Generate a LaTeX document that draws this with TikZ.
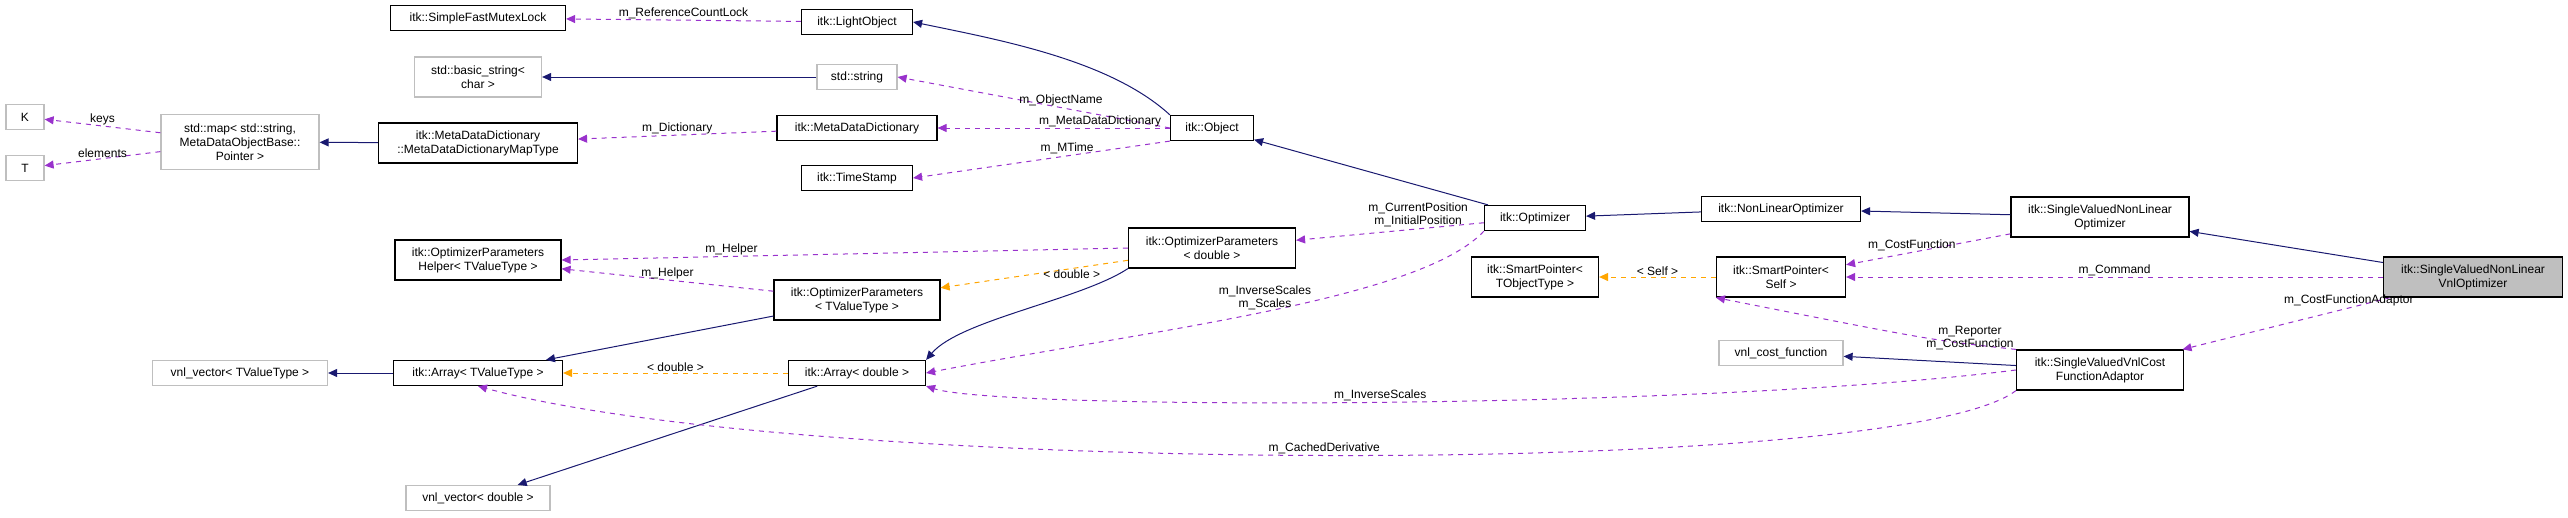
\documentclass[tikz,border=0pt]{standalone}
\usepackage{fontspec}
\setmainfont{Liberation Sans}
\usetikzlibrary{arrows.meta}
\definecolor{inh}{RGB}{25,25,112}
\definecolor{use}{RGB}{153,50,204}
\definecolor{tpl}{RGB}{255,165,0}
\definecolor{lgray}{RGB}{191,191,191}
\begin{document}
\begin{tikzpicture}[x=1pt,y=-1pt,
  box/.style={draw=black,line width=1.2pt,minimum height=25,inner sep=1,align=center,font=\fontsize{12}{14}\selectfont},
  ext/.style={box,draw=lgray},
  two/.style={minimum height=40},
  inhe/.style={draw=inh,line width=1pt,-{Triangle[length=9pt,width=8pt]}},
  usee/.style={draw=use,line width=1pt,dash pattern=on 5pt off 5pt,-{Triangle[length=9pt,width=8pt]}},
  tple/.style={draw=tpl,line width=1pt,dash pattern=on 5pt off 5pt,-{Triangle[length=9pt,width=8pt]}},
  lab/.style={font=\fontsize{12}{13}\selectfont,align=center,inner sep=1}]
\useasboundingbox (0,0) rectangle (2568,517);
% nodes
\node[box,minimum width=175] (sfml) at (478,18) {itk::SimpleFastMutexLock};
\node[box,minimum width=111] (lo) at (857,22) {itk::LightObject};
\node[ext,two,minimum width=127] (bs) at (478,77) {std::basic\_string\textless\\char \textgreater};
\node[ext,minimum width=80] (ss) at (857,77) {std::string};
\node[ext,minimum width=38] (K) at (25,117) {K};
\node[ext,minimum width=38] (T) at (25,168) {T};
\node[ext,minimum width=158,minimum height=55] (map) at (240,142) {std::map\textless{} std::string,\\MetaDataObjectBase::\\Pointer \textgreater};
\node[box,two,minimum width=199] (mt) at (478,143) {itk::MetaDataDictionary\\::MetaDataDictionaryMapType};
\node[box,minimum width=160] (mdd) at (857,128) {itk::MetaDataDictionary};
\node[box,minimum width=111] (ts) at (857,178) {itk::TimeStamp};
\node[box,two,minimum width=166] (oph) at (478,260) {itk::OptimizerParameters\\Helper\textless{} TValueType \textgreater};
\node[box,two,minimum width=166] (optv) at (857,300) {itk::OptimizerParameters\\\textless{} TValueType \textgreater};
\node[ext,minimum width=175] (vvt) at (240,373) {vnl\_vector\textless{} TValueType \textgreater};
\node[box,minimum width=169] (atv) at (478,373) {itk::Array\textless{} TValueType \textgreater};
\node[box,minimum width=137] (ad) at (857,373) {itk::Array\textless{} double \textgreater};
\node[ext,minimum width=144] (vvd) at (478,498) {vnl\_vector\textless{} double \textgreater};
\node[box,minimum width=83] (obj) at (1212,128) {itk::Object};
\node[box,two,minimum width=167] (opd) at (1212,248) {itk::OptimizerParameters\\\textless{} double \textgreater};
\node[box,minimum width=101] (opt) at (1535,218) {itk::Optimizer};
\node[box,two,minimum width=127] (spt) at (1535,277) {itk::SmartPointer\textless\\TObjectType \textgreater};
\node[box,minimum width=159] (nlo) at (1781,209) {itk::NonLinearOptimizer};
\node[box,two,minimum width=178] (svn) at (2100,217) {itk::SingleValuedNonLinear\\Optimizer};
\node[box,two,minimum width=129] (sps) at (1781,277) {itk::SmartPointer\textless\\Self \textgreater};
\node[ext,minimum width=124] (vcf) at (1781,353) {vnl\_cost\_function};
\node[box,two,minimum width=167] (cfa) at (2100,370) {itk::SingleValuedVnlCost\\FunctionAdaptor};
\node[box,two,minimum width=179,fill=lgray] (fin) at (2473,277) {itk::SingleValuedNonLinear\\VnlOptimizer};
% inheritance
\draw[inhe] (ss) -- (bs);
\draw[inhe] (mt) -- (map);
\draw[inhe] (obj.north west) .. controls (1110,60) and (1000,40) .. (lo.east);
\draw[inhe] (opt) -- (obj);
\draw[inhe] (nlo) -- (opt);
\draw[inhe] (svn) -- (nlo);
\draw[inhe] (fin) -- (svn);
\draw[inhe] (optv) -- (atv);
\draw[inhe] (atv) -- (vvt);
\draw[inhe] (opd.south west) .. controls (1080,300) and (960,320) .. (ad.north east);
\draw[inhe] (ad) -- (vvd);
\draw[inhe] (cfa) -- (vcf);
% usage
\draw[usee] (lo) -- node[lab,above]{m\_ReferenceCountLock} (sfml);
\draw[usee] (obj.west) -- node[lab,above,pos=0.4]{m\_ObjectName} (ss.east);
\draw[usee] (obj) -- node[lab,above,pos=0.3]{m\_MetaDataDictionary} (mdd);
\draw[usee] (obj.south west) -- node[lab,above,pos=0.4]{m\_MTime} (ts.east);
\draw[usee] (mdd) -- node[lab,above]{m\_Dictionary} (mt);
\draw[usee] (map) -- node[lab,above]{keys} (K);
\draw[usee] (map) -- node[lab,above]{elements} (T);
\draw[usee] (opd.west) -- node[lab,above,pos=0.7]{m\_Helper} (oph.east);
\draw[usee] (optv) -- node[lab,above]{m\_Helper} (oph);
\draw[usee] (opt) -- node[lab,above,pos=0.35]{m\_CurrentPosition\\m\_InitialPosition} (opd);
\draw[usee] (opt.south west) .. controls (1420,300) and (1150,330) .. node[lab,pos=0.5,above]{m\_InverseScales\\m\_Scales} (ad.east);
\draw[usee] (svn) -- node[lab,above,pos=0.6]{m\_CostFunction} (sps);
\draw[usee] (fin) -- node[lab,above]{m\_Command} (sps);
\draw[usee] (cfa.north west) .. controls (1930,340) .. node[lab,pos=0.45,right]{m\_Reporter\\m\_CostFunction} (sps.south west);
\draw[usee] (fin) -- node[lab,above,pos=0.2]{m\_CostFunctionAdaptor} (cfa);
\draw[usee] (cfa.west) .. controls (1700,410) and (1000,410) .. node[lab,above,pos=0.5]{m\_InverseScales} (ad.south east);
\draw[usee] (cfa.south west) .. controls (1900,480) and (800,475) .. node[lab,above,pos=0.5]{m\_CachedDerivative} (atv.south);
% templates
\draw[tple] (opd) -- node[lab,below,pos=0.3]{\textless{} double \textgreater} (optv);
\draw[tple] (ad) -- node[lab,above]{\textless{} double \textgreater} (atv);
\draw[tple] (sps) -- node[lab,above]{\textless{} Self \textgreater} (spt);
\end{tikzpicture}
\end{document}
